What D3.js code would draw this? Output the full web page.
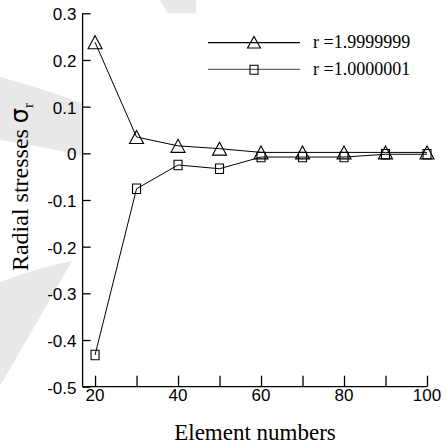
<!DOCTYPE html>
<html><head><meta charset="utf-8">
<script src="https://cdn.jsdelivr.net/npm/d3@7"></script>
<style>body{margin:0;background:#fff}svg{display:block}</style>
</head><body>
<script>
const elements = [20, 30, 40, 50, 60, 70, 80, 90, 100];
const seriesTriangle = [0.238, 0.035, 0.016, 0.010, 0.002, 0.002, 0.002, 0.002, 0.002];
const seriesSquare = [-0.432, -0.076, -0.025, -0.033, -0.008, -0.008, -0.008, -0.002, -0.002];
const seriesNames = ["r =1.9999999", "r =1.0000001"];
const xTicks = [20, 30, 40, 50, 60, 70, 80, 90, 100];
const xTickLabels = [20, 40, 60, 80, 100];
const yTicks = [0.3, 0.2, 0.1, 0, -0.1, -0.2, -0.3, -0.4, -0.5];
const yTickLabels = ["0.3", "0.2", "0.1", "0", "-0.1", "-0.2", "-0.3", "-0.4", "-0.5"];

const W = 447, H = 444;
const L = 82.6, R = 427, T = 13.3, B = 386.7;
const svg = d3.select("body").append("svg").attr("width", W).attr("height", H);

// faint background watermark
const wm = svg.append("g").attr("fill", "#e8e8e8");
wm.append("path").attr("d", "M160,0 L196,0 L196,14 L168,14 Z");
wm.append("path").attr("d", "M0,77 Q42,88 84,104 L84,156 Q40,146 0,140 Z");
wm.append("path").attr("d", "M0,282 Q36,268 72,261 L0,386 Z");

svg.append("rect").attr("x", L).attr("y", T).attr("width", W - L).attr("height", B - T).attr("fill", "#fff");

const x = d3.scaleLinear().domain([17, 100]).range([L, R]);
const y = d3.scaleLinear().domain([-0.5, 0.3]).range([B, T]);

// axes
const xAxis = svg.append("g").attr("transform", `translate(0,${B})`)
  .call(d3.axisBottom(x).tickValues(xTicks).tickSizeInner(-11).tickSizeOuter(0).tickFormat(""));
xAxis.select(".domain").attr("d", `M${L},0H${R}`);
const yAxis = svg.append("g").attr("transform", `translate(${L},0)`)
  .call(d3.axisLeft(y).tickValues(yTicks).tickSizeInner(-8).tickSizeOuter(0).tickFormat(""));
yAxis.select(".domain").attr("d", `M0,${T}V${B}`);
svg.selectAll(".domain, .tick line").attr("stroke", "#000").attr("stroke-width", 1.3);

svg.append("g").selectAll("text").data(xTickLabels).join("text")
  .attr("x", d => x(d)).attr("y", 400.5).attr("text-anchor", "middle")
  .attr("font-family", "Liberation Sans, Arial, sans-serif").attr("font-size", 17)
  .text(d => d);
svg.append("g").selectAll("text").data(yTicks).join("text")
  .attr("x", 76.5).attr("y", d => y(d) + 7).attr("text-anchor", "end")
  .attr("font-family", "Liberation Sans, Arial, sans-serif").attr("font-size", 17)
  .text((d, i) => yTickLabels[i]);

// titles
svg.append("text").attr("x", 255).attr("y", 440).attr("text-anchor", "middle")
  .attr("font-family", "Liberation Serif, Times New Roman, serif").attr("font-size", 23)
  .text("Element numbers");
const yt = svg.append("text").attr("transform", "translate(28,187) rotate(-90)")
  .attr("text-anchor", "middle")
  .attr("font-family", "Liberation Serif, Times New Roman, serif").attr("font-size", 24);
yt.append("tspan").text("Radial stresses ");
yt.append("tspan").attr("font-family", "DejaVu Sans, sans-serif").attr("font-size", 24).text("σ");
yt.append("tspan").attr("font-size", 15).attr("dy", 5).text("r");

// series
const line = d3.line().x((d, i) => x(elements[i])).y(d => y(d));
const tri = (cx, cy, w, h) => `M${cx},${cy - h / 2}L${cx + w / 2},${cy + h / 2}L${cx - w / 2},${cy + h / 2}Z`;
const sq = (cx, cy, w, h) => `M${cx - w / 2},${cy - h / 2}h${w}v${h}h${-w}Z`;

const g = svg.append("g").attr("fill", "none").attr("stroke", "#000");
g.append("path").attr("d", line(seriesTriangle)).attr("stroke-width", 1);
g.append("path").attr("d", line(seriesSquare)).attr("stroke-width", 1);
g.selectAll(".tri").data(seriesTriangle).join("path").attr("class", "tri")
  .attr("d", (d, i) => tri(x(elements[i]), y(d), 14, 13)).attr("stroke-width", 1.1);
g.selectAll(".sq").data(seriesSquare).join("path").attr("class", "sq")
  .attr("d", (d, i) => sq(x(elements[i]), y(d), 8, 9.5)).attr("stroke-width", 1.1);

// legend
const leg = svg.append("g");
const legY = [42.7, 69.3];
leg.append("line").attr("x1", 208).attr("x2", 300).attr("y1", legY[0]).attr("y2", legY[0]).attr("stroke", "#000").attr("stroke-width", 1.2);
leg.append("line").attr("x1", 208).attr("x2", 300).attr("y1", legY[1]).attr("y2", legY[1]).attr("stroke", "#666").attr("stroke-width", 1.2);
leg.append("path").attr("d", tri(254, legY[0] - 0.5, 13, 11.5)).attr("fill", "none").attr("stroke", "#000").attr("stroke-width", 1.1);
leg.append("path").attr("d", sq(254, legY[1] + 0.5, 8, 9)).attr("fill", "none").attr("stroke", "#000").attr("stroke-width", 1.1);
leg.selectAll("text").data(seriesNames).join("text")
  .attr("x", 313).attr("y", (d, i) => legY[i] + 5.5)
  .attr("font-family", "Liberation Serif, Times New Roman, serif").attr("font-size", 18)
  .text(d => d);
</script>
</body></html>
